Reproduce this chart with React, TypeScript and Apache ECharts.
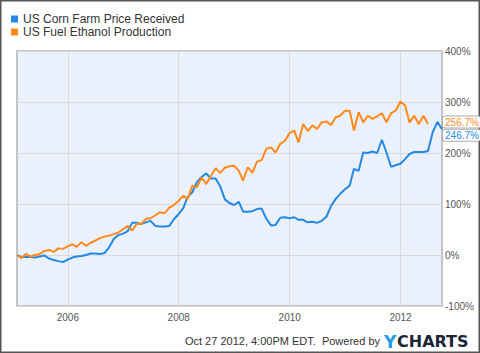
import React, { useEffect, useRef } from 'react';
import * as echarts from 'echarts';

// Monthly % change since Jan 2005 (first month = 0%)
const cornValues = [
  0, -4, -4, -4, -5, -3, -1, -7, -10, -12, -14, -9,
  -5, -3, -2, 0, 3, 3, 2, 4, 15, 32, 39, 42,
  47, 63, 63, 61, 64, 67, 57, 56, 56, 57, 70, 80,
  92, 114, 123, 143, 153, 160, 150, 150, 135, 109, 102, 98,
  104, 85, 85, 86, 90, 91, 71, 58, 59, 73, 74, 72,
  74, 69, 69, 64, 65, 63, 67, 75, 96, 110, 120, 129,
  136, 169, 165, 201, 200, 203, 200, 226, 201, 173, 176, 179,
  188, 198, 202, 202, 202, 204, 241, 261, 246.7,
];
const ethanolValues = [
  0, -6, 2, -3, 0, 2, 8, 10, 6, 13, 12, 17,
  21, 16, 25, 18, 24, 28, 33, 36, 38, 41, 44, 51,
  57, 48, 61, 61, 71, 72, 78, 84, 82, 93, 98, 106,
  116, 110, 136, 133, 152, 139, 155, 170, 161, 171, 174, 175,
  165, 146, 172, 161, 183, 186, 208, 211, 201, 218, 224, 239,
  244, 221, 257, 243, 254, 247, 260, 262, 255, 270, 273, 283,
  283, 244, 280, 260, 273, 267, 272, 278, 260, 278, 283, 301,
  293, 260, 273, 257, 273, 256.7,
];
const seriesNames = ['US Corn Farm Price Received', 'US Fuel Ethanol Production'];
const xTickYears = [2006, 2008, 2010, 2012];
const yMin = -100;
const yMax = 400;
const yInterval = 100;

const BLUE = '#2389e3';
const ORANGE = '#ff8a1b';
const FONT = '"Liberation Sans", Arial, sans-serif';

// month i (0 = Jan 2005) dated at month end
const monthDates = cornValues.map((_, i) => Date.UTC(2005, i + 1, 0));
const xMin = monthDates[0];
const xMax = monthDates[monthDates.length - 1];

export default function App() {
  const ref = useRef<HTMLDivElement>(null);
  useEffect(() => {
    const chart = echarts.init(ref.current!, null, { renderer: 'svg' });
    const tickVals = xTickYears.map((y) => Date.UTC(y, 0, 1));
    const corn = cornValues.map((v, i) => [monthDates[i], v]);
    const eth = ethanolValues.map((v, i) => [monthDates[i], v]);
    const lastCorn = cornValues[cornValues.length - 1];
    const lastEth = ethanolValues[ethanolValues.length - 1];
    const endLabel = (color: string, value: number, dy: number) => ({
      silent: true,
      symbol: 'rect',
      symbolSize: 0.1,
      itemStyle: { color: 'rgba(0,0,0,0)' },
      label: {
        show: true,
        position: 'right',
        distance: 1,
        offset: [0, dy],
        formatter: value.toFixed(1) + '%',
        color,
        fontSize: 10,
        fontFamily: FONT,
        backgroundColor: '#fff',
        borderColor: '#aaa',
        borderWidth: 1,
        borderRadius: 2,
        padding: [1, 1, 0, 2],
      },
      data: [{ coord: [xMax, value] }],
    });
    chart.setOption({
      animation: false,
      textStyle: { fontFamily: FONT },
      color: [BLUE, ORANGE],
      legend: {
        orient: 'vertical',
        left: 6,
        top: 8,
        icon: 'rect',
        itemWidth: 7,
        itemHeight: 7,
        itemGap: 1,
        selectedMode: false,
        textStyle: { fontSize: 12, color: '#333', fontFamily: FONT },
        data: seriesNames,
      },
      grid: {
        left: 17,
        right: 38,
        top: 51,
        bottom: 47,
        show: true,
        backgroundColor: '#eaf1fc',
        borderColor: '#c4c4c4',
        borderWidth: 2,
      },
      xAxis: {
        type: 'value',
        min: xMin,
        max: xMax,
        axisLine: { show: false },
        axisTick: { show: false, customValues: tickVals },
        axisLabel: {
          customValues: tickVals,
          formatter: (v: number) => String(new Date(v).getUTCFullYear()),
          color: '#555',
          fontSize: 10,
          margin: 6,
        },
        splitLine: { show: true, lineStyle: { color: '#d9d9d9', width: 1 } },
      },
      yAxis: {
        type: 'value',
        position: 'right',
        min: yMin,
        max: yMax,
        interval: yInterval,
        axisLine: { show: false },
        axisTick: { show: false },
        axisLabel: { formatter: '{value}%', color: '#555', fontSize: 10, margin: 3 },
        splitLine: { show: true, lineStyle: { color: '#d9d9d9', width: 1 } },
      },
      series: [
        {
          name: seriesNames[0],
          type: 'line',
          data: corn,
          symbol: 'none',
          lineStyle: { width: 2, color: BLUE },
          itemStyle: { color: BLUE },
          markPoint: endLabel(BLUE, lastCorn, 6),
        },
        {
          name: seriesNames[1],
          type: 'line',
          data: eth,
          symbol: 'none',
          lineStyle: { width: 2, color: ORANGE },
          itemStyle: { color: ORANGE },
          markPoint: endLabel(ORANGE, lastEth, -2),
        },
      ],
      graphic: [
        {
          type: 'rect',
          shape: { x: 0.75, y: 0.75, width: 478.5, height: 351.5 },
          style: { fill: 'none', stroke: '#555', lineWidth: 1.5 },
          silent: true,
        },
        {
          type: 'text',
          right: 100,
          top: 335,
          style: {
            text: 'Oct 27 2012, 4:00PM EDT.  Powered by',
            fill: '#333',
            fontSize: 11,
            fontFamily: FONT,
          },
        },
        {
          type: 'text',
          left: 384,
          top: 333,
          style: {
            text: 'Y',
            fill: '#1b9be6',
            fontSize: 17,
            fontWeight: 'bold',
            fontFamily: '"DejaVu Sans", sans-serif',
          },
        },
        {
          type: 'text',
          left: 397,
          top: 333,
          style: {
            text: 'CHARTS',
            fill: '#1c2636',
            fontSize: 16,
            fontWeight: 'bold',
            fontFamily: '"DejaVu Sans", sans-serif',
          },
        },
      ],
    });
    return () => chart.dispose();
  }, []);
  return (
    <div
      ref={ref}
      style={{ position: 'fixed', left: 0, top: 0, width: 480, height: 353, background: '#fff' }}
    />
  );
}
